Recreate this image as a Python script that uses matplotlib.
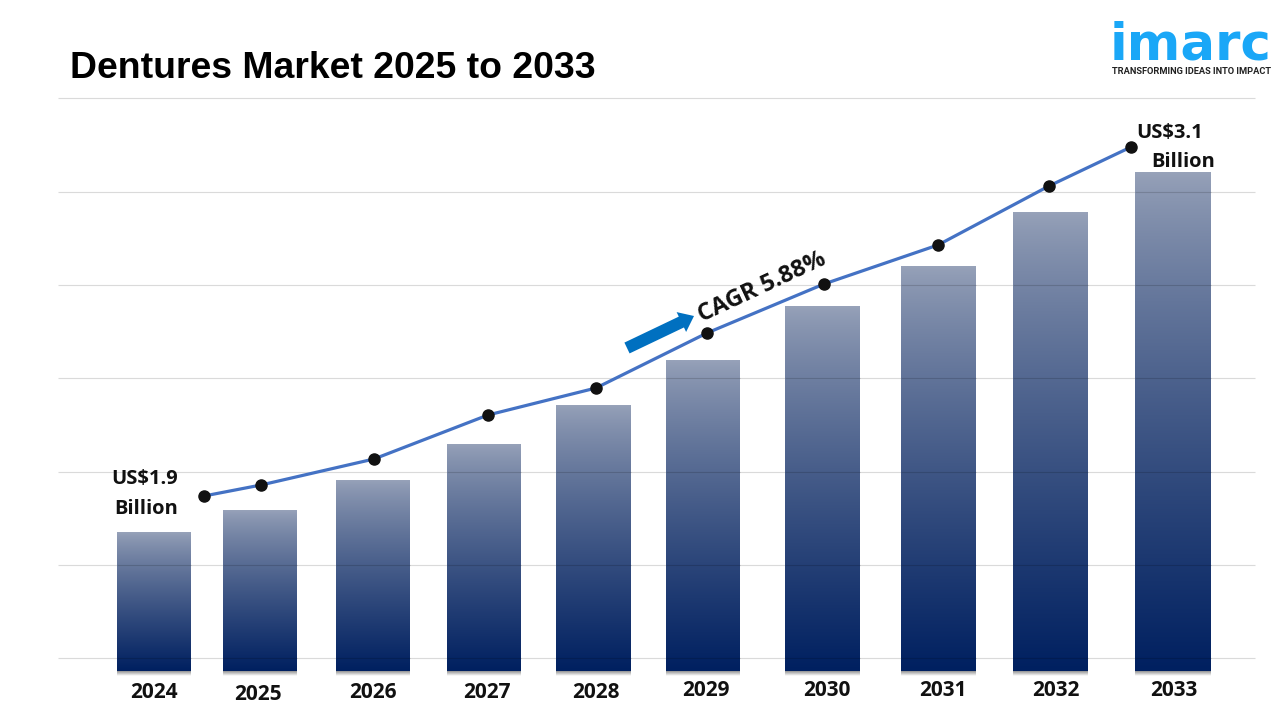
"""Dentures market chart: gradient bars with a trend line on top."""

import matplotlib

matplotlib.use("Agg")
import matplotlib.pyplot as plt
import numpy as np
from matplotlib.colors import to_rgb
from matplotlib.patches import FancyArrow

years = ["2024", "2025", "2026", "2027", "2028", "2029", "2030", "2031", "2032", "2033"]
# axis units are pixels above the bar baseline, the source has no value axis
bar_values = [139, 161, 191, 227, 266, 311, 365, 405, 459, 499]
line_values = [175, 186, 212, 256, 283, 338, 387, 426, 485, 524]
grid_values = [573, 479, 386, 293, 199, 106, 13]

bar_x = [154, 260, 373, 484, 593, 703, 822, 938, 1050, 1173]
bar_w = [74, 74, 74, 74, 75, 74, 75, 75, 75, 76]
line_x = [204, 261, 374, 488, 596, 707, 824, 938, 1049, 1131]
label_x = [154, 258, 373, 487, 596, 706, 827, 943, 1056, 1174]
label_y = [693, 694, 693, 692, 692, 691, 691, 691, 691, 691]

BASE = 671  # pixel row of the bars' baseline
NAVY = "#002060"
TOP = "#97A2B9"
BLUE = "#4472C4"
LOGO = "#1AA7F7"
LABEL_FONT = "Open Sans"


def py(row):
    # pixel row -> data value
    return BASE - row


fig = plt.figure(figsize=(12.8, 7.2), dpi=100)
ax = fig.add_axes([0, 0, 1, 1])

ax.hlines(grid_values, 58, 1255, color="#DADADA", lw=0.8, zorder=1)

# grey-blue at the top, navy at the bottom; darkens a bit faster than linear
t = np.linspace(0, 1, 256)[:, None] ** 0.8
ramp = np.ones((256, 1, 4))
ramp[:, 0, :3] = (1 - t) * np.array(to_rgb(TOP)) + t * np.array(to_rgb(NAVY))
shadow = np.zeros((16, 1, 4))
shadow[:, 0, :3] = 0.3
shadow[:, 0, 3] = np.linspace(0.6, 0, 16)

for x, w, v in zip(bar_x, bar_w, bar_values):
    left, right = x - w / 2, x + w / 2
    ax.imshow(shadow, extent=[left, right, -5, 0], origin="upper",
              aspect="auto", zorder=2, interpolation="bilinear")
    ax.imshow(ramp, extent=[left, right, 0, v], origin="upper",
              aspect="auto", zorder=2, interpolation="bilinear")
    # the grid reads as a darker line through each bar
    crossing = [g for g in grid_values if g < v]
    ax.hlines(crossing, left, right, color="black", alpha=0.15, lw=0.8, zorder=2.5)

ax.plot(line_x, line_values, color=BLUE, lw=2.3, zorder=3, solid_capstyle="round")
ax.plot(line_x, line_values, ls="none", marker="o", ms=8, color="#111111", zorder=4)

for x, y, year in zip(label_x, label_y, years):
    ax.text(x, py(y), year, ha="center", va="center", fontsize=15,
            fontweight="bold", family=LABEL_FONT, color="#111111")

for x, y, s in [(145, 479, "US$1.9"), (146, 509, "Billion"),
                (1170, 133, "US$3.1"), (1183, 162, "Billion")]:
    ax.text(x, py(y), s, ha="center", va="center", fontsize=14.5,
            fontweight="bold", family=LABEL_FONT, color="#111111")

ax.text(762, py(287), "CAGR 5.88%", ha="center", va="center", rotation=25,
        rotation_mode="anchor", fontsize=17, fontweight="bold",
        family=LABEL_FONT, color="#111111")
ax.add_patch(FancyArrow(627, py(348), 67, 32, width=12, head_width=22, head_length=14,
                        length_includes_head=True, color="#0070C0", lw=0, zorder=3))

ax.text(70, py(69), "Dentures Market 2025 to 2033", ha="left", va="center",
        fontsize=26.9, fontweight="bold", family="Liberation Sans", color="black")

# logo
ax.text(1191, py(60), "imarc", ha="center", va="baseline", fontsize=37,
        fontweight="bold", family="DejaVu Sans", color=LOGO)
ax.text(1192, py(72), "TRANSFORMING IDEAS INTO IMPACT", ha="center", va="center",
        fontsize=6.7, fontweight="bold", family="Roboto", color="#222222")

ax.set_xlim(0, 1280)
ax.set_ylim(py(720), py(0))
ax.axis("off")

fig.savefig("out.png", dpi=100, facecolor="white")
